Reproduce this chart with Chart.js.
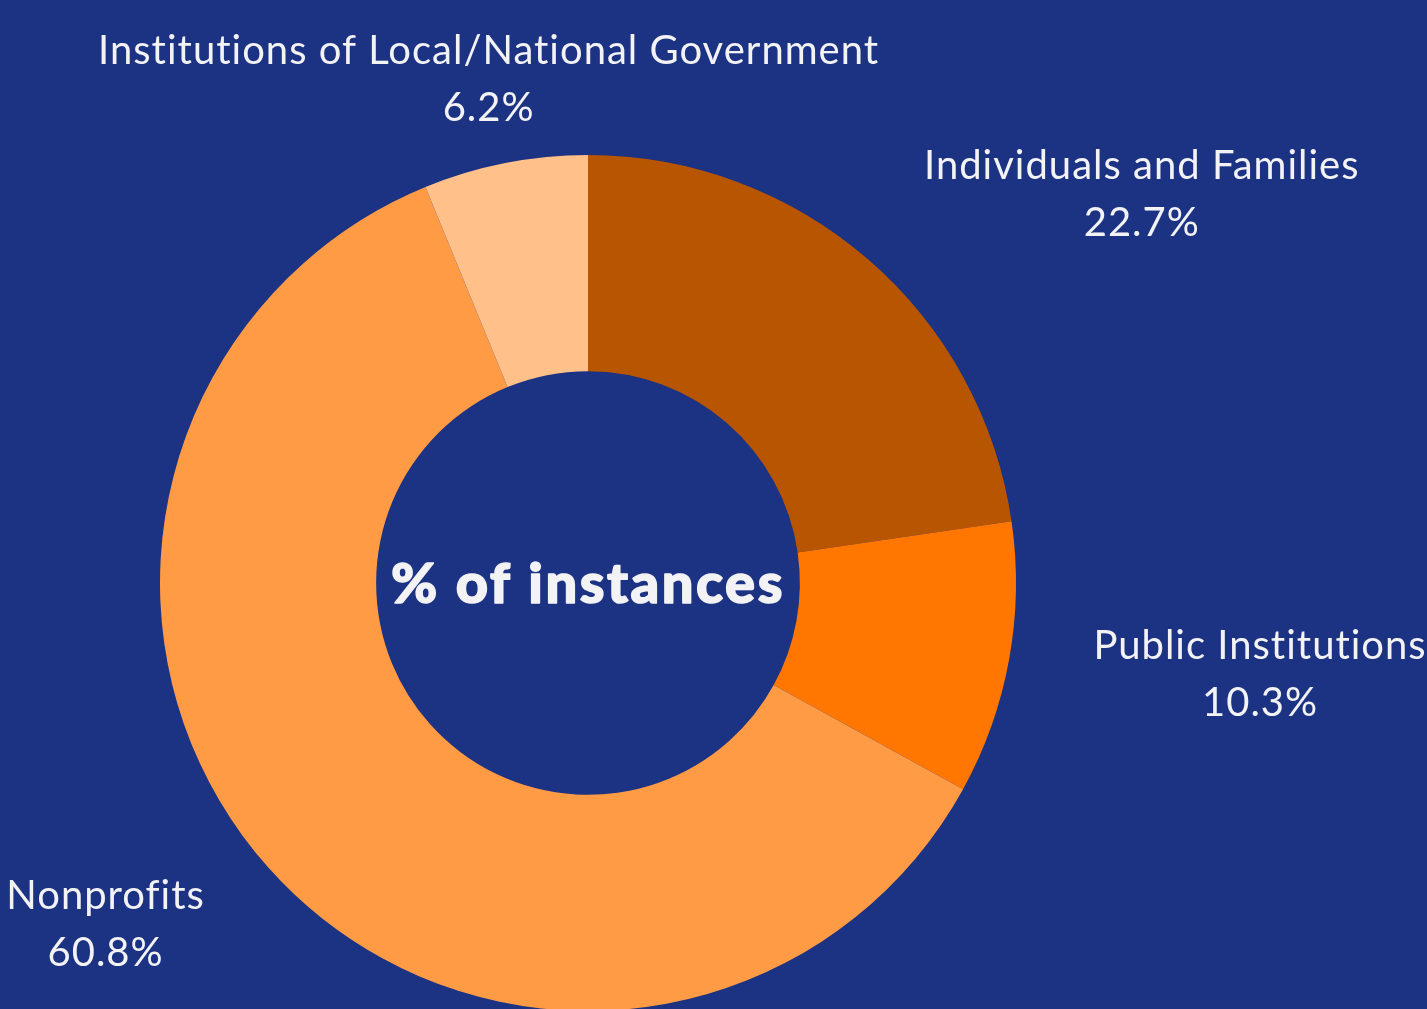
<!DOCTYPE html>
<html>
<head>
<meta charset="utf-8">
<script src="https://cdn.jsdelivr.net/npm/chart.js@4"></script>
<style>
    html, body { margin: 0; padding: 0; background: #1c3283; overflow: hidden; }
    #wrap { position: relative; width: 1427px; height: 1020px; }
</style>
</head>
<body>
<div id="wrap"><canvas id="donutChart"></canvas></div>
<script>
// data
const categories = ['Individuals and Families', 'Public Institutions', 'Nonprofits', 'Institutions of Local/National Government'];
const shares = [22.7, 10.3, 60.8, 6.2];
const sliceColors = ['#b85500', '#ff7700', '#ff9b45', '#ffc08a'];
const centerTitle = '% of instances';

// labels outside the ring: anchor at 1.2 x radius on the slice's mid angle,
// box centred vertically on it, its near edge on it horizontally
const outsideLabels = {
    id: 'outsideLabels',
    afterDraw(chart) {
        const ctx = chart.ctx;
        const arcs = chart.getDatasetMeta(0).data;
        ctx.save();
        ctx.fillStyle = '#f3f3f5';
        ctx.font = '40px Lato, "Noto Sans", sans-serif';
        ctx.letterSpacing = '1px';
        const lh = 57;
        arcs.forEach(function(arc, i) {
            const mid = (arc.startAngle + arc.endAngle) / 2;
            const d = arc.outerRadius * 1.2;
            const px = arc.x + Math.cos(mid) * d;
            const py = arc.y + Math.sin(mid) * d;
            const lines = [categories[i], shares[i].toFixed(1) + '%'];
            const w = Math.max.apply(null, lines.map(l => ctx.measureText(l).width));
            let cx = px;
            if (Math.cos(mid) > 0.3) cx = px + w / 2;
            else if (Math.cos(mid) < -0.3) cx = px - w / 2;
            ctx.textAlign = 'center';
            ctx.textBaseline = 'middle';
            lines.forEach(function(l, j) {
                ctx.fillText(l, cx, py - lh / 2 + lh * j);
            });
        });
        // centre title (a thin stroke to make it look heavier)
        const a0 = arcs[0];
        ctx.font = '900 56px Lato, "Noto Sans", sans-serif';
        ctx.letterSpacing = '2.5px';
        ctx.textAlign = 'center';
        ctx.textBaseline = 'middle';
        ctx.strokeStyle = '#f3f3f5';
        ctx.lineWidth = 1.5;
        ctx.lineJoin = 'round';
        ctx.fillText(centerTitle, a0.x, a0.y + 2);
        ctx.strokeText(centerTitle, a0.x, a0.y + 2);
        ctx.restore();
    }
};

window.onload = function() {
    var ctx = document.getElementById('donutChart').getContext('2d');
    new Chart(ctx, {
        type: 'doughnut',
        data: {
            labels: categories,
            datasets: [{
                data: shares,
                backgroundColor: sliceColors,
                borderWidth: 0
            }]
        },
        options: {
            responsive: true,
            maintainAspectRatio: false,
            animation: false,
            cutout: '49.5%',
            layout: { padding: { left: 160, right: 411, top: 155, bottom: 9 } },
            plugins: {
                legend: { display: false },
                tooltip: { enabled: false }
            }
        },
        plugins: [outsideLabels]
    });
};
</script>
</body>
</html>
